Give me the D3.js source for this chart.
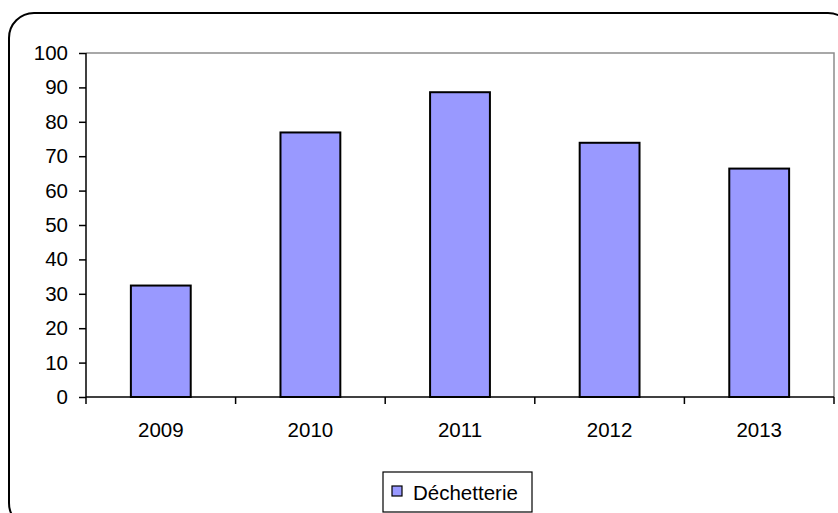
<!DOCTYPE html>
<html>
<head>
<meta charset="utf-8">
<script src="https://cdn.jsdelivr.net/npm/d3@7"></script>
<style>
  html, body { margin: 0; padding: 0; background: #fff; }
  svg { display: block; }
  text { font-family: "Liberation Sans", Arial, sans-serif; fill: #000; }
</style>
</head>
<body>
<svg id="chart" width="838" height="513"></svg>
<script>
// Yearly values for the single series
const years = ["2009", "2010", "2011", "2012", "2013"];
const dechetterie = [32.4, 76.9, 88.6, 73.9, 66.4];
const yTicks = [0, 10, 20, 30, 40, 50, 60, 70, 80, 90, 100];
const seriesName = "Déchetterie";

const svg = d3.select("#chart");
const FONT = "20.5px";

// Outer rounded frame
svg.append("rect")
  .attr("x", 9).attr("y", 13)
  .attr("width", 844).attr("height", 515)
  .attr("rx", 25).attr("ry", 25)
  .attr("fill", "#fff")
  .attr("stroke", "#000")
  .attr("stroke-width", 2);

const plot = { left: 86, right: 834, top: 53, bottom: 397 };

const x = d3.scaleBand()
  .domain(years)
  .range([plot.left, plot.right])
  .paddingInner(0.6)
  .paddingOuter(0.3);

const y = d3.scaleLinear()
  .domain([0, 100])
  .range([plot.bottom, plot.top]);

// Plot area border (top and right in grey)
svg.append("path")
  .attr("d", `M${plot.left},${plot.top}H${plot.right}V${plot.bottom}`)
  .attr("fill", "none")
  .attr("stroke", "#8c8c8c")
  .attr("stroke-width", 1.5);

// Bars
svg.append("g").selectAll("rect")
  .data(years.map((yr, i) => ({ yr, v: dechetterie[i] })))
  .join("rect")
  .attr("x", d => x(d.yr))
  .attr("y", d => y(d.v))
  .attr("width", x.bandwidth())
  .attr("height", d => y(0) - y(d.v))
  .attr("fill", "#9999ff")
  .attr("stroke", "#000")
  .attr("stroke-width", 2);

// Y axis
const yAxis = d3.axisLeft(y).tickValues(yTicks).tickSize(7).tickPadding(11);
const gy = svg.append("g")
  .attr("transform", `translate(${plot.left},0)`)
  .call(yAxis);
gy.select(".domain").attr("d", `M0,${plot.top}V${plot.bottom}`).attr("stroke", "#000").attr("stroke-width", 1.5);
gy.selectAll(".tick line").attr("stroke", "#000").attr("stroke-width", 1.5);
gy.selectAll(".tick text")
  .style("font-family", "'Liberation Sans', Arial, sans-serif")
  .style("font-size", FONT)
  .attr("fill", "#000");

// X axis: ticks sit between categories
const boundaries = d3.range(years.length + 1).map(i => plot.left + i * (plot.right - plot.left) / years.length);
const gx = svg.append("g");
gx.append("line")
  .attr("x1", plot.left).attr("x2", plot.right)
  .attr("y1", plot.bottom).attr("y2", plot.bottom)
  .attr("stroke", "#000").attr("stroke-width", 1.5);
gx.selectAll("line.tk")
  .data(boundaries)
  .join("line")
  .attr("class", "tk")
  .attr("x1", d => d).attr("x2", d => d)
  .attr("y1", plot.bottom).attr("y2", plot.bottom + 7)
  .attr("stroke", "#000").attr("stroke-width", 1.5);
gx.selectAll("text")
  .data(years)
  .join("text")
  .attr("x", d => x(d) + x.bandwidth() / 2)
  .attr("y", 437)
  .attr("text-anchor", "middle")
  .style("font-size", FONT)
  .text(d => d);

// Legend
const lg = svg.append("g");
lg.append("rect")
  .attr("x", 383).attr("y", 472)
  .attr("width", 149).attr("height", 40)
  .attr("fill", "#fff")
  .attr("stroke", "#000")
  .attr("stroke-width", 1.2);
lg.append("rect")
  .attr("x", 392).attr("y", 486)
  .attr("width", 10).attr("height", 10)
  .attr("fill", "#9999ff")
  .attr("stroke", "#000")
  .attr("stroke-width", 1.2);
lg.append("text")
  .attr("x", 413).attr("y", 500)
  .style("font-size", FONT)
  .text(seriesName);
</script>
</body>
</html>
